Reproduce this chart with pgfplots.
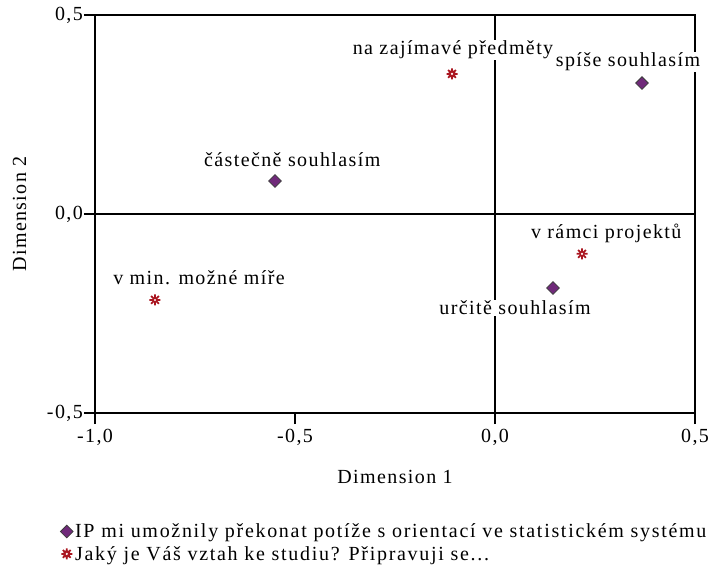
\documentclass[border=0pt]{standalone}
\usepackage{fontspec}
\setmainfont{Liberation Serif}[LetterSpace=7]
\usepackage{pgfplots}
\pgfplotsset{compat=1.18}
\definecolor{dpurple}{RGB}{112,42,122}
\definecolor{dedge}{RGB}{60,60,60}
\definecolor{sred}{RGB}{170,22,32}

\pgfdeclareplotmark{gear}{%
  \pgfpathcircle{\pgfpointorigin}{0.7\pgfplotmarksize}%
  \pgfusepathqfill
  \foreach \a in {0,45,...,315}{%
    \pgfpathmoveto{\pgfpointorigin}%
    \pgfpathlineto{\pgfpointpolar{\a}{\pgfplotmarksize}}%
  }%
  \pgfusepathqstroke
  \pgfsetfillcolor{white}%
  \pgfpathcircle{\pgfpointorigin}{0.22\pgfplotmarksize}%
  \pgfusepathqfill
}

\begin{document}
\begin{tikzpicture}[font=\fontsize{20bp}{23bp}\selectfont]
\begin{axis}[
  name=ax,
  scale only axis,
  width=600bp, height=398bp,
  xmin=-1, xmax=0.5, ymin=-0.5, ymax=0.5,
  xtick={-1,-0.5,0,0.5}, ytick={-0.5,0,0.5},
  xtick pos=left, ytick pos=left,
  tick align=outside,
  major tick length=11bp,
  axis line style={line width=1.5bp},
  every tick/.style={black, line width=1.5bp},
  /pgf/number format/.cd, use comma, fixed, fixed zerofill, precision=1, assume math mode=true,
  /pgfplots/.cd,
  tick label style={font=\fontsize{20bp}{23bp}\selectfont},
  xticklabel style={inner sep=1bp, yshift=-4bp},
  yticklabel style={inner sep=1bp},
  xlabel={Dimension 1}, ylabel={Dimension 2},
  label style={font=\fontsize{20bp}{23bp}\selectfont},
  xlabel style={yshift=-20bp},
  ylabel style={yshift=16bp},
  legend style={at={(-0.058,-0.273)}, anchor=north west, draw=none, fill=none,
    font=\fontsize{20bp}{23bp}\selectfont\addfontfeature{LetterSpace=8.5}, row sep=3bp, inner sep=0pt,
    cells={anchor=west}},
  legend image code/.code={\draw[#1] plot coordinates {(0bp,0bp)};},
  clip=false,
]
\draw[line width=1.5bp] (axis cs:0,-0.5) -- (axis cs:0,0.5);
\draw[line width=1.5bp] (axis cs:-1,0) -- (axis cs:0.5,0);

% labels with white background
\node[fill=white, inner sep=1bp] at (axis cs:0.3325,0.382) {spíše souhlasím};
\node[fill=white, inner sep=1bp] at (axis cs:-0.105,0.412) {na zajímavé předměty};
\node[fill=white, inner sep=1bp] at (axis cs:-0.507,0.136) {částečně souhlasím};
\node[fill=white, inner sep=1bp] at (axis cs:0.278,-0.048) {v rámci projektů};
\node[fill=white, inner sep=1bp] at (axis cs:-0.74,-0.161) {v min. možné míře};
\node[fill=white, inner sep=1bp] at (axis cs:0.05,-0.236) {určitě souhlasím};

\addplot[only marks, mark=square*, mark size=4.5bp,
  mark options={rotate=45, fill=dpurple, draw=dedge, line width=0.8bp}]
  coordinates {(0.3675,0.329) (-0.55,0.083) (0.145,-0.186)};
\addlegendentry{IP mi umožnily překonat potíže s orientací ve statistickém systému}
\addplot[only marks, mark=gear, mark size=5.5bp,
  mark options={fill=sred, draw=sred, line width=1.8bp}]
  coordinates {(-0.1075,0.352) (0.2175,-0.10) (-0.85,-0.216)};
\addlegendentry{Jaký je Váš vztah ke studiu? Připravuji se...}
\end{axis}
\pgfresetboundingbox
\useasboundingbox ([shift={(-95bp,-158bp)}]ax.south west) rectangle ([shift={(15bp,15bp)}]ax.north east);
\end{tikzpicture}
\end{document}
